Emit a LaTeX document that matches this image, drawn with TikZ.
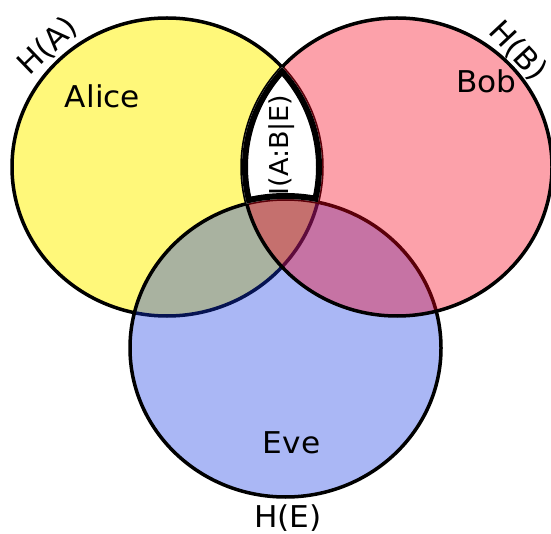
\documentclass[tikz,border=0pt]{standalone}
\usepackage{fontspec}
\setmainfont[FakeStretch=1.04]{DejaVu Sans}
\definecolor{alicefill}{RGB}{255,248,122}
\definecolor{evefill}{RGB}{19,55,228}
\definecolor{bobfill}{RGB}{247,0,25}
\begin{document}
\begin{tikzpicture}[x=1pt,y=1pt,
  ring/.style={line width=3.5pt, draw=black},
  lbl/.style={font=\fontsize{30}{36}\selectfont, inner sep=0pt},
  smalllbl/.style={font=\fontsize{26}{30}\selectfont, inner sep=0pt},
]
\useasboundingbox (0,0) rectangle (551,-534);
\coordinate (ca) at (167,-167);
\coordinate (cb) at (397,-167);
\coordinate (ce) at (285.5,-348);
\def\discA{(ca) ellipse[x radius=155, y radius=149]}
\def\discB{(cb) ellipse[x radius=155, y radius=149]}
\def\discE{(ce) ellipse[x radius=155.5, y radius=149]}

% the three entropy discs, later fills tint earlier outlines
\filldraw[ring, fill=alicefill] \discA;
\filldraw[ring, fill=evefill, fill opacity=0.36] \discE;
\filldraw[ring, fill=bobfill, fill opacity=0.37] \discB;

% conditional mutual information: A and B outside E
\begin{scope}
  \clip \discA;
  \clip \discB;
  \begin{scope}[even odd rule]
    \clip \discE (-10,10) rectangle (561,-544);
    \fill[white] (0,0) rectangle (551,-534);
    \draw[line width=12pt] \discA \discB \discE;
  \end{scope}
\end{scope}

% labels
\node[lbl, anchor=base] (alice) at (102.5,-108) {Alice};
\node[lbl, anchor=base] (bob) at (486.5,-93) {Bob};
\node[lbl, anchor=base] (eve) at (291.5,-453) {Eve};
\node[lbl, anchor=base] (he) at (288,-527) {H(E)};
\node[lbl, rotate=44] (ha) at (48,-46) {H(A)};
\node[lbl, rotate=-47] (hb) at (518,-51) {H(B)};
\node[smalllbl, rotate=90] (iabe) at (282,-145) {I(A:B|E)};
\end{tikzpicture}
\end{document}
